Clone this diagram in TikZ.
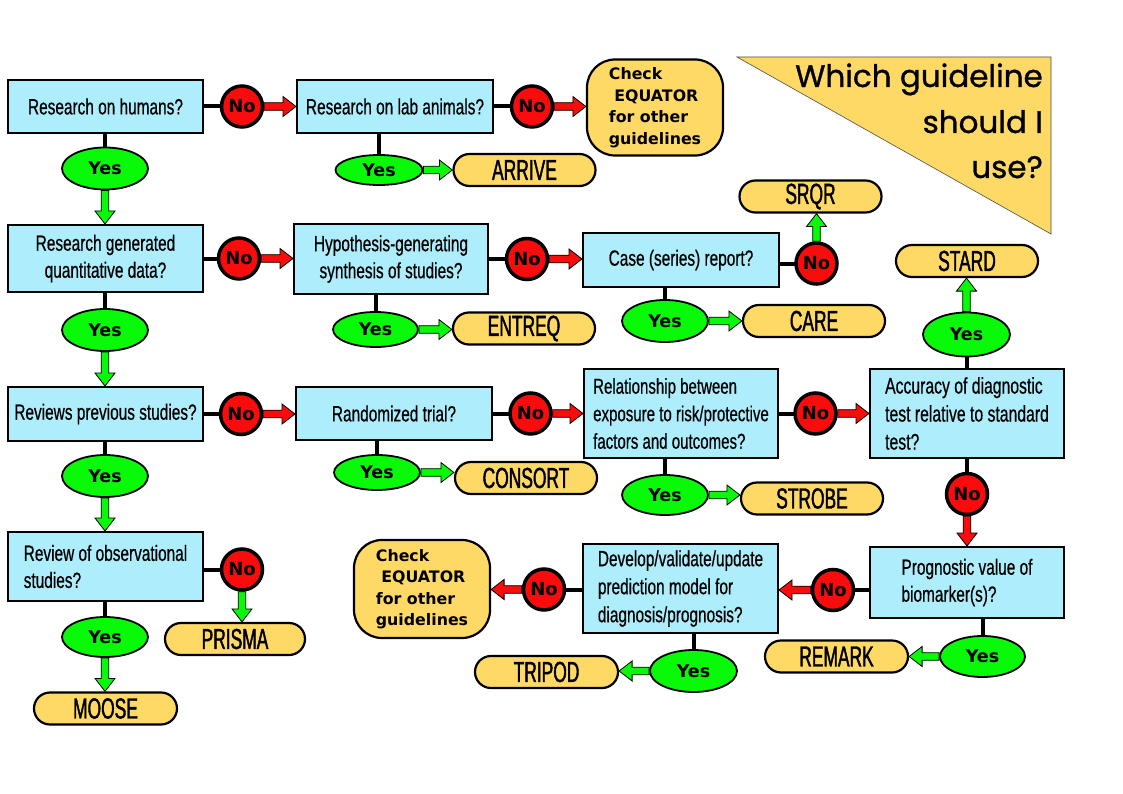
\documentclass[tikz,border=0pt]{standalone}
\usepackage{fontspec}
\setmainfont{Liberation Sans}
\newfontfamily\qfam[FakeStretch=0.7,FakeBold=0.6]{Liberation Sans}
\newfontfamily\gfam[FakeStretch=0.6,FakeBold=1.4]{Liberation Sans}
\newfontfamily\ynfam{DejaVu Sans}
\newfontfamily\titlefam[FakeBold=1.0]{Poppins}
\usetikzlibrary{shapes.geometric,calc}
\definecolor{qcyan}{RGB}{174,238,252}
\definecolor{ygreen}{RGB}{8,250,8}
\definecolor{nred}{RGB}{250,12,12}
\definecolor{gyellow}{RGB}{255,217,102}
\newcommand\barrow[3]{%
  \path[fill=#1, draw=black, line width=0.8pt, line join=miter]
    let \p1=(#2), \p2=(#3), \n1={atan2(\y2-\y1,\x2-\x1)}, \n2={veclen(\x2-\x1,\y2-\y1)}, \n3={\n2-13pt} in
    [shift={(\x1,\y1)}, rotate=\n1]
    (0pt,-3.8pt) -- (\n3,-3.8pt) -- (\n3,-10pt) -- (\n2,0pt) -- (\n3,10pt) -- (\n3,3.8pt) -- (0pt,3.8pt) -- cycle;}
\begin{document}
\begin{tikzpicture}[x=1pt,y=-1pt,
 qbox/.style={draw=black, line width=2pt, fill=qcyan, inner sep=0pt, font=\qfam\fontsize{22}{27}\selectfont, align=center},
 gbox/.style={draw=black, line width=2.2pt, fill=gyellow, rounded corners=16pt, minimum width=142pt, minimum height=32pt, inner sep=0pt, font=\gfam\fontsize{29}{30}\selectfont},
 yesnode/.style={ellipse, draw=black, line width=1.8pt, fill=ygreen, inner sep=0pt, minimum width=86pt, minimum height=42pt, font=\ynfam\bfseries\fontsize{17.5}{20}\selectfont},
 nonode/.style={circle, draw=black, line width=3.5pt, fill=nred, inner sep=0pt, minimum size=41pt, font=\ynfam\bfseries\fontsize{18}{20}\selectfont},
 chkbox/.style={draw=black, line width=2.2pt, fill=gyellow, rounded corners=28pt, minimum width=136pt, minimum height=96pt, inner sep=0pt, align=left, font=\ynfam\bfseries\fontsize{15.8}{21.5}\selectfont},
 stem/.style={line width=4pt, draw=black},
 titletext/.style={anchor=base east, inner sep=0pt, font=\titlefam\fontsize{31}{40}\selectfont},
]
\useasboundingbox (0,0) rectangle (1123,794);
\fill[white] (0,0) rectangle (1123,794);

% title
\filldraw[fill=gyellow, draw=black!70, line width=0.6pt] (737,57) -- (1051,57) -- (1051,234) -- cycle;
\node[titletext] (t1) at (1043,87) {Which guideline};
\node[titletext] (t2) at (1043,133) {should I};
\node[titletext] (t3) at (1043,178) {use?};

% question boxes
\node[qbox, minimum width=195pt, minimum height=53pt] (q1) at (105.5,106.5) {Research on humans?};
\node[qbox, minimum width=196pt, minimum height=53pt] (q2) at (395,106.5) {Research on lab animals?};
\node[qbox, minimum width=195pt, minimum height=67pt] (q3) at (105.5,258.5) {Research generated\\quantitative data?};
\node[qbox, minimum width=194pt, minimum height=70pt] (q4) at (391,259) {Hypothesis-generating\\synthesis of studies?};
\node[qbox, minimum width=196pt, minimum height=54pt] (q5) at (681,260) {Case (series) report?};
\node[qbox, minimum width=195pt, minimum height=54pt] (q6) at (105.5,414) {Reviews previous studies?};
\node[qbox, minimum width=196pt, minimum height=53pt] (q7) at (394,413.5) {Randomized trial?};
\node[qbox, minimum width=194pt, minimum height=89pt, align=left, font=\qfam\fontsize{21.5}{27.5}\selectfont] (q8) at (681,413.5) {Relationship between\\exposure to risk/protective\\factors and outcomes?};
\node[qbox, minimum width=194pt, minimum height=89pt, align=left, font=\qfam\fontsize{22.5}{28}\selectfont] (q9) at (967,413.5) {Accuracy of diagnostic\\test relative to standard\\test?};
\node[qbox, minimum width=195pt, minimum height=69pt, align=left] (q10) at (105.5,566.5) {Review of observational\\studies?};
\node[qbox, minimum width=194pt, minimum height=71pt, align=left] (q11) at (967,582.5) {Prognostic value of\\biomarker(s)?};
\node[qbox, minimum width=195pt, minimum height=89pt, align=left, font=\qfam\fontsize{22}{28}\selectfont] (q12) at (680.5,588.5) {Develop/validate/update\\prediction model for\\diagnosis/prognosis?};

% check equator boxes
\node[chkbox] (ch1) at (655,107.5) {Check\\~EQUATOR\\for other\\guidelines};
\node[chkbox, minimum height=98pt] (ch2) at (422,589) {Check\\~EQUATOR\\for other\\guidelines};

% guideline boxes
\node[gbox] (arrive) at (524.5,170) {ARRIVE};
\node[gbox] (entreq) at (524,328.5) {ENTREQ};
\node[gbox] (srqr) at (810.5,196.5) {SRQR};
\node[gbox] (care) at (814,321) {CARE};
\node[gbox] (stard) at (967,261) {STARD};
\node[gbox] (consort) at (526,478) {CONSORT};
\node[gbox] (strobe) at (812,498.5) {STROBE};
\node[gbox, minimum width=140pt] (prisma) at (235,639) {PRISMA};
\node[gbox, minimum width=143pt] (moose) at (105.5,708.5) {MOOSE};
\node[gbox, minimum width=143pt] (remark) at (836.5,656.5) {REMARK};
\node[gbox, minimum width=143pt] (tripod) at (546.5,672) {TRIPOD};

% stems
\draw[stem] (240,106.5) -- (q1.east);
\draw[stem] (530,106.5) -- (q2.east);
\draw[stem] (238,258.5) -- (q3.east);
\draw[stem] (527,259) -- (q4.east);
\draw[stem] (816.5,263.5) -- (816.5,263.5 -| q5.east);
\draw[stem] (241,414) -- (q6.east);
\draw[stem] (530.5,413.5) -- (q7.east);
\draw[stem] (815.5,413.5) -- (q8.east);
\draw[stem] (242,569.5) -- (242,569.5 -| q10.east);
\draw[stem] (833,590) -- (833,590 -| q11.west);
\draw[stem] (544,589.5) -- (544,589.5 -| q12.west);

% yes nodes
\node[yesnode] (y1) at (105,168.5) {Yes};
\node[yesnode, minimum width=87pt, minimum height=30pt] (y2) at (379,170) {Yes};
\node[yesnode] (y3) at (105,330) {Yes};
\node[yesnode, minimum width=85pt, minimum height=35pt] (y4) at (375.5,329.5) {Yes};
\node[yesnode] (y5) at (665,321) {Yes};
\node[yesnode, minimum width=87pt, minimum height=44pt] (y6) at (966.5,334.5) {Yes};
\node[yesnode] (y7) at (105,476) {Yes};
\node[yesnode, minimum height=35pt] (y8) at (377,472.5) {Yes};
\node[yesnode, minimum height=40pt] (y9) at (665,495) {Yes};
\node[yesnode, minimum height=40pt] (y10) at (105,637) {Yes};
\node[yesnode, minimum width=85pt, minimum height=41pt] (y11) at (982.5,656.5) {Yes};
\node[yesnode, minimum width=87pt] (y12) at (693.5,671) {Yes};

% no nodes
\node[nonode] (n1) at (242,106.5) {No};
\node[nonode] (n2) at (532,106.5) {No};
\node[nonode] (n3) at (239,258.5) {No};
\node[nonode] (n4) at (527,259) {No};
\node[nonode] (n5) at (816.5,263.5) {No};
\node[nonode] (n6) at (241,414) {No};
\node[nonode] (n7) at (530.5,413.5) {No};
\node[nonode] (n8) at (815.5,413.5) {No};
\node[nonode] (n9) at (967,494) {No};
\node[nonode] (n10) at (242,569.5) {No};
\node[nonode] (n11) at (833,590) {No};
\node[nonode] (n12) at (544,589.5) {No};

% vertical stems
\draw[stem] (y1.north) -- (y1.north |- q1.south);
\draw[stem] (y2.north) -- (y2.north |- q2.south);
\draw[stem] (y3.north) -- (y3.north |- q3.south);
\draw[stem] (y4.north) -- (y4.north |- q4.south);
\draw[stem] (y5.north) -- (y5.north |- q5.south);
\draw[stem] (y6.south) -- (y6.south |- q9.north);
\draw[stem] (y7.north) -- (y7.north |- q6.south);
\draw[stem] (y8.north) -- (y8.north |- q7.south);
\draw[stem] (y9.north) -- (y9.north |- q8.south);
\draw[stem] (n9.north) -- (n9.north |- q9.south);
\draw[stem] (y10.north) -- (y10.north |- q10.south);
\draw[stem] (y11.north) -- (y11.north |- q11.south);
\draw[stem] (y12.north) -- (y12.north |- q12.south);

% red arrows
\barrow{nred}{n1.east}{n1.east -| q2.west}
\barrow{nred}{n2.east}{n2.east -| ch1.west}
\barrow{nred}{n3.east}{n3.east -| q4.west}
\barrow{nred}{n4.east}{n4.east -| q5.west}
\barrow{nred}{n6.east}{n6.east -| q7.west}
\barrow{nred}{n7.east}{n7.east -| q8.west}
\barrow{nred}{n8.east}{n8.east -| q9.west}
\barrow{nred}{n9.south}{n9.south |- q11.north}
\barrow{nred}{n11.west}{n11.west -| q12.east}
\barrow{nred}{n12.west}{n12.west -| ch2.east}

% green arrows
\barrow{ygreen}{y1.south}{y1.south |- q3.north}
\barrow{ygreen}{y3.south}{y3.south |- q6.north}
\barrow{ygreen}{y7.south}{y7.south |- q10.north}
\barrow{ygreen}{y10.south}{y10.south |- moose.north}
\barrow{ygreen}{n10.south}{n10.south |- prisma.north}
\barrow{ygreen}{y2.east}{y2.east -| arrive.west}
\barrow{ygreen}{y4.east}{y4.east -| entreq.west}
\barrow{ygreen}{y5.east}{y5.east -| care.west}
\barrow{ygreen}{n5.north}{n5.north |- srqr.south}
\barrow{ygreen}{y6.north}{y6.north |- stard.south}
\barrow{ygreen}{y8.east}{y8.east -| consort.west}
\barrow{ygreen}{y9.east}{y9.east -| strobe.west}
\barrow{ygreen}{y11.west}{y11.west -| remark.east}
\barrow{ygreen}{y12.west}{y12.west -| tripod.east}
\end{tikzpicture}
\end{document}
